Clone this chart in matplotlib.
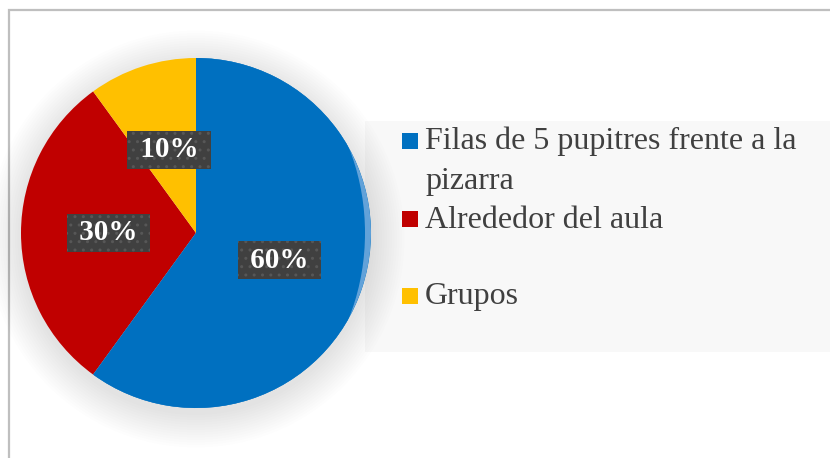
import matplotlib
matplotlib.use("Agg")
import matplotlib.pyplot as plt
from matplotlib.patches import Circle, Ellipse, Rectangle

plt.rcParams['font.family'] = ['Liberation Serif', 'DejaVu Serif']

# data
categories = ['Filas de 5 pupitres frente a la\npizarra', 'Alrededor del aula', 'Grupos']
values = [60, 30, 10]
colors = ['#0070C0', '#C00000', '#FFC000']

W, H = 830, 458
fig = plt.figure(figsize=(W / 100, H / 100), dpi=100)
ax = fig.add_axes([0, 0, 1, 1])

cx, cy, r = 196, 225, 175

# chart border (cropped on right/bottom)
ax.add_patch(Rectangle((9, -20), W + 20, H - 10 + 20, fill=False,
                       edgecolor='#BFBFBF', linewidth=1.6, zorder=0))

# legend background
ax.add_patch(Rectangle((365, 106), W, 231, facecolor='#F8F8F8',
                       edgecolor='none', zorder=0.5))

# soft shadow around the pie
for k in range(14):
    ax.add_patch(Circle((cx, cy - 6), r + 1 + k * 2.5, facecolor='black',
                        edgecolor='none', alpha=0.006, zorder=1))

wedges, texts, autotexts = ax.pie(
    values, colors=colors, startangle=90, counterclock=False,
    center=(cx, cy), radius=r, autopct=lambda p: ' %.0f%% ' % p,
    pctdistance=0.5, wedgeprops=dict(linewidth=0),
)
for w in wedges:
    w.set_zorder(2)

# light bevel on the right rim of the big slice
rim = Circle((cx, cy), r, facecolor='#62A2D9', edgecolor='none', zorder=2.1)
rim.set_clip_path(wedges[0])
ax.add_patch(rim)
inner = Ellipse((cx - 2, cy), 2 * (r - 4), 2 * r * 1.15, facecolor=colors[0],
                edgecolor='none', zorder=2.2)
inner.set_clip_path(wedges[0])
ax.add_patch(inner)

for t in autotexts:
    t.set_fontsize(21)
    t.set_fontweight('bold')
    t.set_color('white')
    t.set_zorder(5)
    t.set_bbox(dict(boxstyle='square,pad=0.18', facecolor='#404040',
                    edgecolor='#575757', linewidth=0, hatch='..'))

# legend (baseline of the last line of each entry)
leg_base = [189, 228, 304]
leg_box = [141, 219, 296]
for wdg, lab, yb, ym in zip(wedges, categories, leg_base, leg_box):
    ax.add_patch(Rectangle((402, H - ym - 8), 16, 16, facecolor=wdg.get_facecolor(),
                           edgecolor='none', zorder=3))
    ax.text(425, H - yb, lab, fontsize=23, color='#404040', va='baseline',
            ha='left', linespacing=1.48, zorder=3)

ax.set_xlim(0, W)
ax.set_ylim(0, H)
ax.set_aspect('auto')
ax.axis('off')

fig.savefig('out.png', dpi=100, facecolor='white')
